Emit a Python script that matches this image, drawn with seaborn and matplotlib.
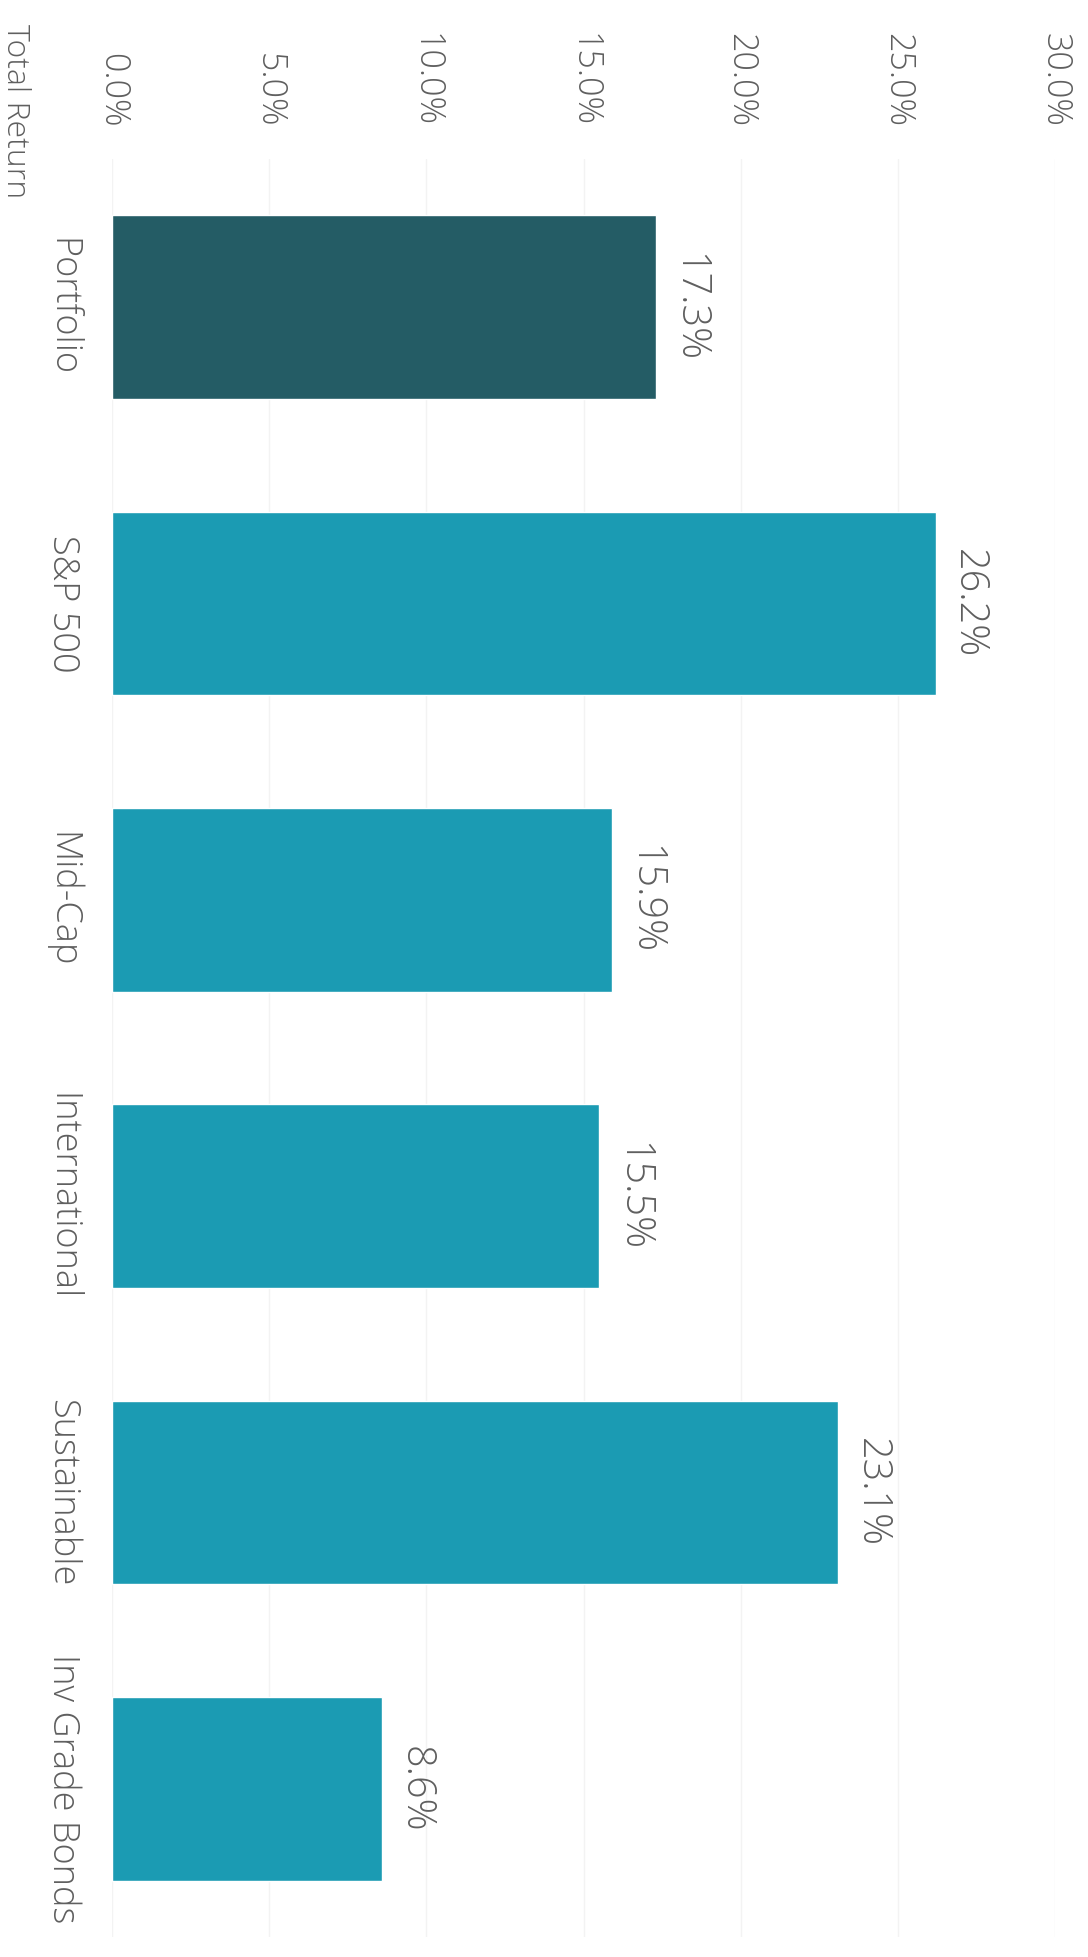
import matplotlib
matplotlib.use("Agg")
import matplotlib.pyplot as plt
import seaborn as sns
import pandas as pd

categories = ["Portfolio", "S&P 500", "Mid-Cap", "International", "Sustainable", "Inv Grade Bonds"]
returns = [17.3, 26.2, 15.9, 15.5, 23.1, 8.6]
value_labels = ["17.3%", "26.2%", "15.9%", "15.5%", "23.1%", "8.6%"]
tick_values = [0, 5, 10, 15, 20, 25, 30]
tick_labels = ["0.0%", "5.0%", "10.0%", "15.0%", "20.0%", "25.0%", "30.0%"]
axis_title = "Total Return"

sns.set_theme(style="white")
plt.rcParams["font.family"] = ["Open Sans", "DejaVu Sans"]
plt.rcParams["font.weight"] = "light"

df = pd.DataFrame({"cat": categories, "ret": returns})
colors = ["#245c65"] + ["#1b9bb3"] * (len(categories) - 1)

fig = plt.figure(figsize=(10.88, 19.57), dpi=100)
W, H = 1088, 1957
left_px, right_px = 112, 1055
top_px, bot_px = 159, 1937
ax = fig.add_axes([left_px / W, 1 - bot_px / H, (right_px - left_px) / W, (bot_px - top_px) / H])

sns.barplot(data=df, y="cat", x="ret", hue="cat", palette=colors, legend=False,
            orient="h", width=0.62, ax=ax, saturation=1)

ax.set_xlim(0, 30)
ax.set_ylim(len(categories) - 0.5, -0.5)
for s in ax.spines.values():
    s.set_visible(False)
ax.set_xlabel("")
ax.set_ylabel("")
ax.grid(axis="x", color="#f3f3f3", linewidth=1)
ax.set_axisbelow(True)

txt_color = "#5f5f5f"
ax.xaxis.tick_top()
ax.set_xticks(tick_values)
ax.set_xticklabels(tick_labels, rotation=-90, ha="center", va="bottom",
                   fontsize=24.5, color=txt_color, fontweight="light")
ax.tick_params(axis="x", length=0, pad=23)

ax.set_yticks(range(len(categories)))
ax.set_yticklabels(categories, rotation=-90, ha="center", va="center",
                   fontsize=26, color=txt_color, fontweight="light")
ax.tick_params(axis="y", length=0, pad=36)

for i, (v, lab) in enumerate(zip(returns, value_labels)):
    ax.annotate(lab, xy=(v, i), xytext=(9, 0), textcoords="offset points",
                rotation=-90, ha="left", va="center", fontsize=28.5,
                color=txt_color, fontweight="light")

fig.text(15 / W, 1 - 24 / H, axis_title, rotation=-90, ha="center", va="top",
         fontsize=23, color=txt_color, fontweight="light")

fig.savefig("out.png", dpi=100, facecolor="white")
